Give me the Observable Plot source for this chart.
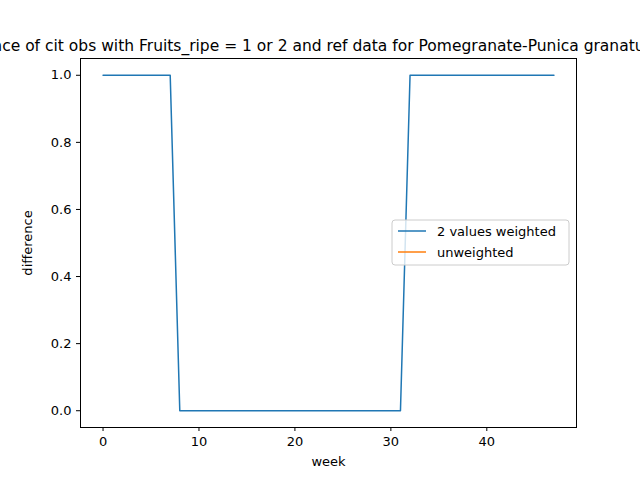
<!DOCTYPE html>
<html><head>
<script src="https://cdn.jsdelivr.net/npm/d3@7"></script>
<script src="https://cdn.jsdelivr.net/npm/@observablehq/plot@0.6"></script>
<style>body{margin:0;background:#fff}svg{font-family:"DejaVu Sans",sans-serif}</style>
</head><body><div id="c"></div>
<script>
const weeks = d3.range(0, 48);
const weighted = weeks.map(w => (w <= 7 || w >= 32) ? 1 : 0);
const unweighted = [];
const seriesNames = ["2 values weighted", "unweighted"];
const colors = ["#1f77b4", "#ff7f0e"];
const titleText = "Difference of cit obs with Fruits_ripe = 1 or 2 and ref data for Pomegranate-Punica granatum";

const data = weeks.map((w, i) => ({week: w, value: weighted[i], s: seriesNames[0]}))
  .concat(unweighted.map((v, i) => ({week: i, value: v, s: seriesNames[1]})));

const plot = Plot.plot({
  width: 640, height: 480,
  marginLeft: 80, marginRight: 64, marginTop: 58, marginBottom: 53,
  style: {fontSize: "13px", fontFamily: "DejaVu Sans, sans-serif", background: "#fff"},
  x: {domain: [-2.35, 49.35], ticks: [0,10,20,30,40], tickSize: 4, label: "week", labelAnchor: "center", labelArrow: "none", labelOffset: 38},
  y: {domain: [-0.05, 1.05], ticks: [0,0.2,0.4,0.6,0.8,1.0], tickFormat: d3.format(".1f"), tickSize: 4, label: "difference", labelAnchor: "center", labelArrow: "none", labelOffset: 58},
  color: {domain: seriesNames, range: colors},
  marks: [
    Plot.frame({stroke: "#000"}),
    Plot.line(data, {x: "week", y: "value", z: "s", stroke: "s", strokeWidth: 1.5})
  ]
});
const svg = d3.select(plot);
svg.append("text").attr("x", 300).attr("y", 51).attr("text-anchor", "middle")
  .attr("font-size", 15.5).text(titleText);
const g = svg.append("g").attr("text-anchor", "start");
g.append("rect").attr("x", 392).attr("y", 220).attr("width", 177).attr("height", 45)
  .attr("rx", 3).attr("fill", "#fff").attr("fill-opacity", 0.8).attr("stroke", "#ccc");
seriesNames.forEach((n, i) => {
  const y = 231 + i * 21;
  g.append("line").attr("x1", 398).attr("x2", 426).attr("y1", y).attr("y2", y)
    .attr("stroke", colors[i]).attr("stroke-width", 1.5);
  g.append("text").attr("x", 437).attr("y", y + 5).attr("font-size", 13)
    .attr("text-anchor", "start").text(n);
});
document.getElementById("c").appendChild(plot);
</script></body></html>
